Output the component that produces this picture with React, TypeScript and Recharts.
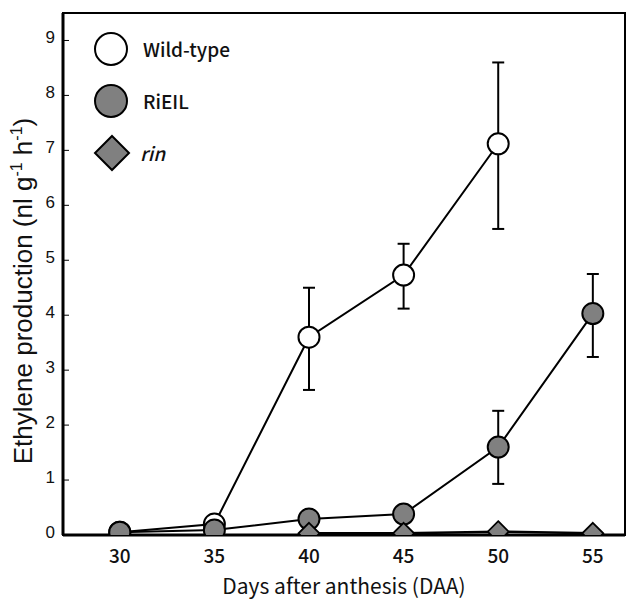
import { LineChart, Line, XAxis, YAxis, ErrorBar, ReferenceArea, Legend, Label } from 'recharts';

// days after anthesis
const days = [30, 35, 40, 45, 50, 55];

// Wild-type (no value at 55 DAA)
const wildTypeDays = [30, 35, 40, 45, 50];
const wildType = [0.05, 0.2, 3.6, 4.73, 7.12];
const wildTypeErrLow = [0, 0, 0.96, 0.61, 1.55];
const wildTypeErrHigh = [0, 0, 0.9, 0.57, 1.48];

// RiEIL
const rieil = [0.05, 0.09, 0.29, 0.38, 1.6, 4.03];
const rieilErrLow = [0, 0, 0, 0, 0.67, 0.79];
const rieilErrHigh = [0, 0, 0, 0, 0.66, 0.72];

// rin
const rinDays = [40, 45, 50, 55];
const rin = [0.03, 0.03, 0.06, 0.03];

const yTicks = [0, 1, 2, 3, 4, 5, 6, 7, 8, 9];

const wtData = wildTypeDays.map((day, i) => ({
  day,
  value: wildType[i],
  err: [wildTypeErrLow[i], wildTypeErrHigh[i]],
}));
const rieilData = days.map((day, i) => ({
  day,
  value: rieil[i],
  err: [rieilErrLow[i], rieilErrHigh[i]],
}));
const rinData = rinDays.map((day, i) => ({ day, value: rin[i] }));

const GRAY = '#808080';
const GOTHIC = '"Noto Sans CJK JP", "Noto Sans", sans-serif';
const ARIAL = '"Liberation Sans", Arial, sans-serif';

const Diamond = (props: any) => {
  const { cx, cy, index } = props;
  const h = 10.5;
  if (cx == null || cy == null) return <g key={`d-${index}`} />;
  return (
    <polygon
      key={`d-${index}`}
      points={`${cx},${cy - h} ${cx + h},${cy} ${cx},${cy + h} ${cx - h},${cy}`}
      fill={GRAY}
      stroke="#000"
      strokeWidth={1.8}
    />
  );
};

const YTick = ({ x, y, payload }: any) => (
  <g>
    <line x1={x} x2={x + 6} y1={y} y2={y} stroke="#000" strokeWidth={1} />
    <text x={x - 8} y={y} dy={3} textAnchor="end" fontSize={17} fontFamily={ARIAL} fill="#111">
      {payload.value}
    </text>
  </g>
);

const YLabel = () => (
  <text
    transform="translate(32, 291) rotate(-90)"
    textAnchor="middle"
    fontSize={26}
    fontFamily={ARIAL}
    fill="#111"
  >
    Ethylene production (nl g
    <tspan dy={-10} fontSize={16}>-1</tspan>
    <tspan dy={10}> h</tspan>
    <tspan dy={-10} fontSize={16}>-1</tspan>
    <tspan dy={10}>)</tspan>
  </text>
);

const legendItems = [
  { name: 'Wild-type', shape: 'circle', fill: '#fff', italic: false },
  { name: 'RiEIL', shape: 'circle', fill: GRAY, italic: false },
  { name: 'rin', shape: 'diamond', fill: GRAY, italic: true },
];

const LegendBox = () => (
  <svg width={260} height={180} style={{ display: 'block' }}>
    {legendItems.map((item, i) => {
      const cy = 49 + i * 52;
      return (
        <g key={item.name}>
          {item.shape === 'circle' ? (
            <circle cx={111} cy={cy} r={16} fill={item.fill} stroke="#000" strokeWidth={2} />
          ) : (
            <polygon
              points={`112,${cy - 17} 129,${cy} 112,${cy + 17} 95,${cy}`}
              fill={item.fill}
              stroke="#000"
              strokeWidth={2}
            />
          )}
          <text
            x={item.italic ? 140 : 143}
            y={cy + 8}
            fontSize={19}
            fontFamily={GOTHIC}
            fontWeight={500}
            fontStyle={item.italic ? 'italic' : 'normal'}
            fill="#111"
          >
            {item.name}
          </text>
        </g>
      );
    })}
  </svg>
);

export default function App() {
  return (
    <div style={{ position: 'absolute', left: 0, top: 0, background: '#fff' }}>
      <LineChart width={631} height={599} margin={{ top: 13, right: 6, left: 0, bottom: 0 }}>
        <XAxis
          dataKey="day"
          type="number"
          domain={[27, 56.7]}
          ticks={days}
          allowDataOverflow
          height={64}
          tickLine={false}
          tickSize={0}
          tickMargin={15}
          axisLine={{ stroke: '#000', strokeWidth: 3 }}
          tick={{ fontSize: 19, fontFamily: GOTHIC, fontWeight: 500, fill: '#111' }}
        >
          <Label
            value="Days after anthesis (DAA)"
            position="insideBottom"
            offset={5}
            style={{ fontSize: 21, fontFamily: GOTHIC, fill: '#111' }}
          />
        </XAxis>
        <YAxis
          type="number"
          domain={[0, 9.5]}
          ticks={yTicks}
          allowDataOverflow
          width={63}
          tickLine={false}
          tickSize={0}
          tickMargin={0}
          axisLine={{ stroke: '#000', strokeWidth: 3 }}
          tick={<YTick />}
          label={<YLabel />}
        />
        <ReferenceArea
          x1={27}
          x2={56.7}
          y1={0}
          y2={9.5}
          fill="none"
          fillOpacity={0}
          stroke="#000"
          strokeWidth={2}
        />
        <Legend
          layout="horizontal"
          verticalAlign="middle"
          align="center"
          wrapperStyle={{ left: 0, top: 0, width: 260, height: 180 }}
          content={() => <LegendBox />}
        />
        <Line
          data={wtData}
          dataKey="value"
          name="Wild-type"
          stroke="#000"
          strokeWidth={2}
          isAnimationActive={false}
          dot={{ r: 10.5, fill: '#fff', stroke: '#000', strokeWidth: 2 }}
          activeDot={false}
        >
          <ErrorBar dataKey="err" direction="y" width={6} stroke="#000" strokeWidth={2} />
        </Line>
        <Line
          data={rieilData}
          dataKey="value"
          name="RiEIL"
          stroke="#000"
          strokeWidth={2}
          isAnimationActive={false}
          dot={{ r: 10.5, fill: GRAY, stroke: '#000', strokeWidth: 2 }}
          activeDot={false}
        >
          <ErrorBar dataKey="err" direction="y" width={6} stroke="#000" strokeWidth={2} />
        </Line>
        <Line
          data={rinData}
          dataKey="value"
          name="rin"
          stroke="#000"
          strokeWidth={2.5}
          isAnimationActive={false}
          dot={<Diamond />}
          activeDot={false}
        />
      </LineChart>
    </div>
  );
}
